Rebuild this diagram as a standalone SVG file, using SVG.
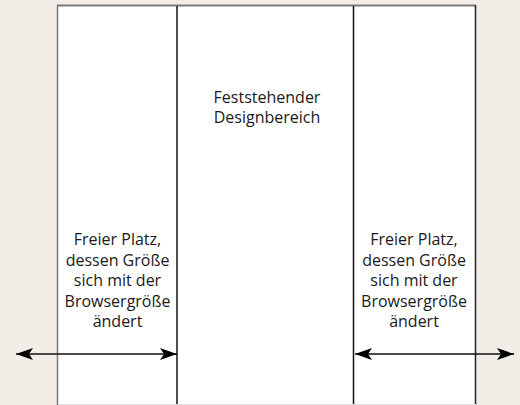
<svg xmlns="http://www.w3.org/2000/svg" width="520" height="405" viewBox="0 0 520 405">
  <style>
    .label { font-family: "Open Sans", "Noto Sans", sans-serif; font-size: 16px; fill: #1a1a1a; text-anchor: middle; }
    .divider { stroke: #111; stroke-width: 1.5; }
    .arrow { stroke: #111; stroke-width: 1.5; fill: none; marker-start: url(#head); marker-end: url(#head); }
  </style>
  <defs>
    <marker id="head" viewBox="0 0 17 12" refX="17" refY="6" markerWidth="17" markerHeight="12" markerUnits="userSpaceOnUse" orient="auto-start-reverse">
      <path d="M0,0 L17,6 L0,12 L4,6 Z" fill="#000"/>
    </marker>
  </defs>

  <!-- page background -->
  <rect x="0" y="0" width="520" height="405" fill="#F2EEE7"/>

  <!-- browser window frame -->
  <g id="window">
    <rect x="58" y="6" width="418" height="399" fill="#FFFFFF"/>
    <line x1="57" y1="5.5" x2="476" y2="5.5" stroke="#7A7A7A" stroke-width="2"/>
    <line x1="57.5" y1="5" x2="57.5" y2="405" stroke="#7A7A7A" stroke-width="1.5"/>
    <line x1="475.5" y1="5" x2="475.5" y2="405" stroke="#222" stroke-width="1.5"/>
    <line x1="58" y1="404.5" x2="476" y2="404.5" stroke="#E2E2E2" stroke-width="1"/>
  </g>

  <!-- column boundaries -->
  <g id="dividers">
    <line class="divider" x1="177" y1="6" x2="177" y2="404"/>
    <line class="divider" x1="353.5" y1="6" x2="353.5" y2="404"/>
  </g>

  <g id="left-space">
    <text class="label" x="117.5" y="245">Freier Platz,</text>
    <text class="label" x="117.5" y="265.5">dessen Größe</text>
    <text class="label" x="117.5" y="286">sich mit der</text>
    <text class="label" x="117.5" y="306.5">Browsergröße</text>
    <text class="label" x="117.5" y="327">ändert</text>
  </g>

  <g id="fixed-area">
    <text class="label" x="267" y="102.5">Feststehender</text>
    <text class="label" x="267" y="123">Designbereich</text>
  </g>

  <g id="right-space">
    <text class="label" x="414" y="245">Freier Platz,</text>
    <text class="label" x="414" y="265.5">dessen Größe</text>
    <text class="label" x="414" y="286">sich mit der</text>
    <text class="label" x="414" y="306.5">Browsergröße</text>
    <text class="label" x="414" y="327">ändert</text>
  </g>

  <!-- resize arrows -->
  <g id="connectors">
    <line class="arrow" x1="16" y1="354" x2="177" y2="354"/>
    <line class="arrow" x1="355" y1="354" x2="514" y2="354"/>
  </g>
</svg>
